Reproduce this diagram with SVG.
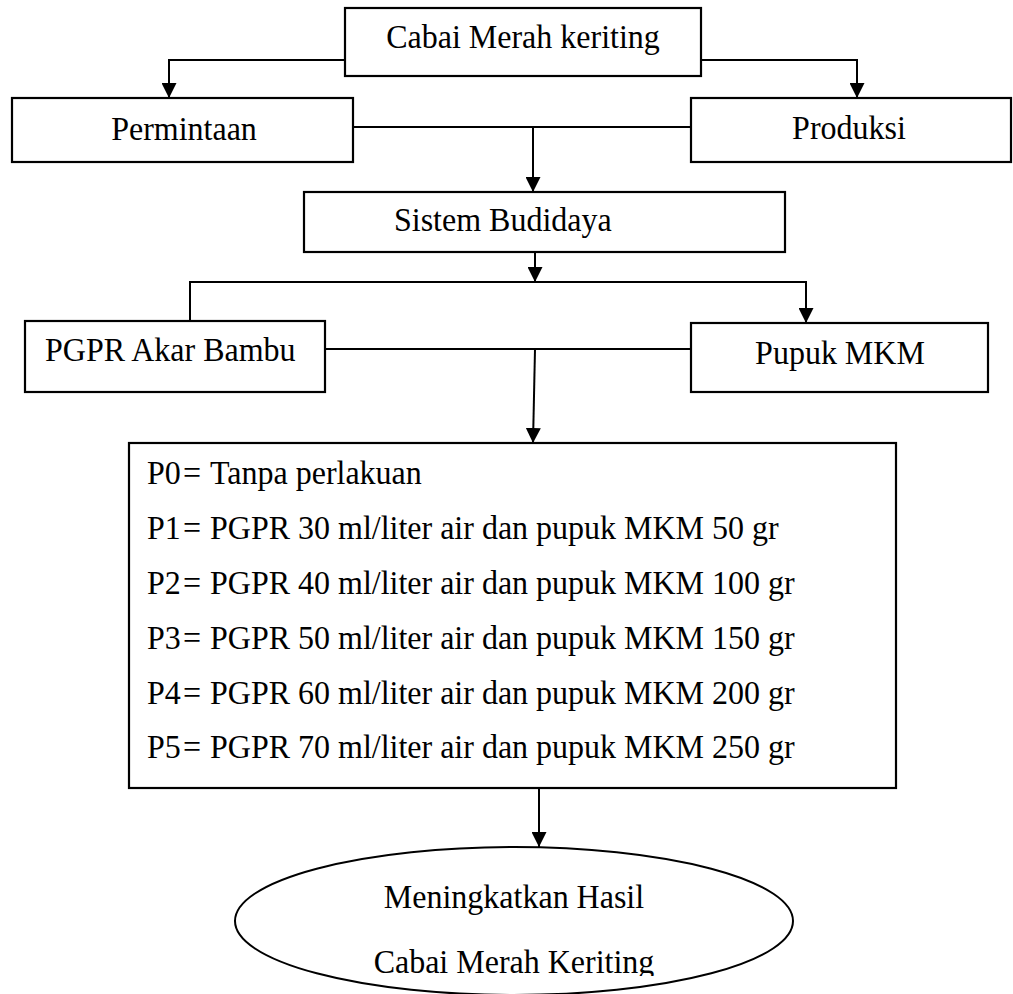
<svg xmlns="http://www.w3.org/2000/svg" width="1013" height="994" viewBox="0 0 1013 994">
<style>
.box{fill:#fff;stroke:#000;stroke-width:2.2}
.t{font-family:"Liberation Serif","Times New Roman",serif;font-size:32px;fill:#000}
.c{text-anchor:middle}
.ln{fill:none;stroke:#000;stroke-width:2}
</style>
<defs>
<marker id="ah" viewBox="0 0 15 15" refX="15" refY="7.5" markerWidth="15" markerHeight="15" markerUnits="userSpaceOnUse" orient="auto">
<path d="M0,0 L15,7.5 L0,15 z" fill="#000"/>
</marker>
<clipPath id="clipE"><rect x="0" y="0" width="1013" height="976"/></clipPath>
</defs>
<rect width="1013" height="994" fill="#fff"/>
<g id="connectors">
<polyline class="ln" points="345,60 169,60 169,98" marker-end="url(#ah)"/>
<polyline class="ln" points="701,60 857,60 857,98" marker-end="url(#ah)"/>
<line class="ln" x1="353" y1="127" x2="691" y2="127"/>
<line class="ln" x1="533" y1="127" x2="533" y2="192" marker-end="url(#ah)"/>
<line class="ln" x1="535" y1="252" x2="535" y2="282" marker-end="url(#ah)"/>
<polyline class="ln" points="190,321 190,282 806,282 806,323" marker-end="url(#ah)"/>
<line class="ln" x1="325" y1="349" x2="691" y2="349"/>
<line class="ln" x1="535" y1="349" x2="533" y2="443" marker-end="url(#ah)"/>
<line class="ln" x1="539" y1="789" x2="539" y2="847" marker-end="url(#ah)"/>
</g>
<g id="node-cabai">
<rect class="box" x="345" y="8" width="356" height="68"/>
<text class="t c" x="523" y="48" transform="matrix(1,0,0,1.066,0,-3.17)">Cabai Merah keriting</text>
</g>
<g id="node-permintaan">
<rect class="box" x="12" y="98" width="341" height="64"/>
<text class="t c" x="184" y="140" transform="matrix(1,0,0,1.066,0,-9.24)">Permintaan</text>
</g>
<g id="node-produksi">
<rect class="box" x="691" y="98" width="320" height="64"/>
<text class="t c" x="849" y="139" transform="matrix(1,0,0,1.066,0,-9.17)">Produksi</text>
</g>
<g id="node-sistem">
<rect class="box" x="304" y="192" width="481" height="60"/>
<text class="t" x="394" y="231" transform="matrix(1,0,0,1.066,0,-15.25)">Sistem Budidaya</text>
</g>
<g id="node-pgpr">
<rect class="box" x="25" y="321" width="300" height="71"/>
<text class="t" x="45" y="361" transform="matrix(1,0,0,1.066,0,-23.83)">PGPR Akar Bambu</text>
</g>
<g id="node-mkm">
<rect class="box" x="691" y="323" width="297" height="69"/>
<text class="t c" x="840" y="364" transform="matrix(1,0,0,1.066,0,-24.02)">Pupuk MKM</text>
</g>
<g id="node-perlakuan">
<rect class="box" x="129" y="443" width="767" height="345"/>
<text class="t" y="484" transform="matrix(1,0,0,1.066,0,-31.94)"><tspan x="147">P0</tspan><tspan x="183">=</tspan><tspan x="210">Tanpa perlakuan</tspan></text>
<text class="t" y="539" transform="matrix(1,0,0,1.066,0,-35.57)"><tspan x="147">P1</tspan><tspan x="183">=</tspan><tspan x="210">PGPR 30 ml/liter air dan pupuk MKM 50 gr</tspan></text>
<text class="t" y="594" transform="matrix(1,0,0,1.066,0,-39.20)"><tspan x="147">P2</tspan><tspan x="183">=</tspan><tspan x="210">PGPR 40 ml/liter air dan pupuk MKM 100 gr</tspan></text>
<text class="t" y="649" transform="matrix(1,0,0,1.066,0,-42.83)"><tspan x="147">P3</tspan><tspan x="183">=</tspan><tspan x="210">PGPR 50 ml/liter air dan pupuk MKM 150 gr</tspan></text>
<text class="t" y="704" transform="matrix(1,0,0,1.066,0,-46.46)"><tspan x="147">P4</tspan><tspan x="183">=</tspan><tspan x="210">PGPR 60 ml/liter air dan pupuk MKM 200 gr</tspan></text>
<text class="t" y="758" transform="matrix(1,0,0,1.066,0,-50.03)"><tspan x="147">P5</tspan><tspan x="183">=</tspan><tspan x="210">PGPR 70 ml/liter air dan pupuk MKM 250 gr</tspan></text>
</g>
<g id="node-hasil">
<ellipse class="box" cx="514" cy="921" rx="279" ry="74" style="stroke-width:2"/>
<g clip-path="url(#clipE)">
<text class="t c" x="514" y="908" transform="matrix(1,0,0,1.066,0,-59.93)">Meningkatkan Hasil</text>
<text class="t c" x="514" y="973" transform="matrix(1,0,0,1.066,0,-64.22)">Cabai Merah Keriting</text>
</g>
</g>
</svg>
